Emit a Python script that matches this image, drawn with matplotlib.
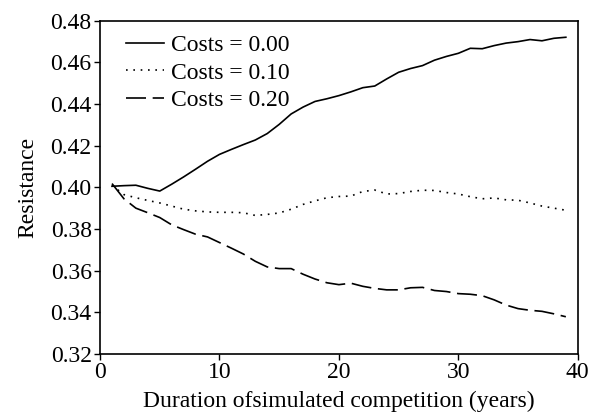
import matplotlib
matplotlib.use("Agg")
import matplotlib.pyplot as plt

plt.rcParams['font.family'] = ['Liberation Serif', 'DejaVu Serif']

years = list(range(1, 40))

# Costs = 0.00
res_000 = [0.4005, 0.4008, 0.4010, 0.3995, 0.3982, 0.4015, 0.4050, 0.4087, 0.4125, 0.4158,
           0.4182, 0.4205, 0.4227, 0.4258, 0.4302, 0.4352, 0.4385, 0.4412, 0.4425, 0.4440,
           0.4458, 0.4478, 0.4486, 0.4520, 0.4552, 0.4570, 0.4584, 0.4610, 0.4628, 0.4643,
           0.4667, 0.4665, 0.4680, 0.4692, 0.4699, 0.4709, 0.4703, 0.4715, 0.4720]
# Costs = 0.10
res_010 = [0.4010, 0.3965, 0.3950, 0.3937, 0.3925, 0.3910, 0.3895, 0.3887, 0.3882, 0.3880,
           0.3880, 0.3878, 0.3865, 0.3870, 0.3877, 0.3895, 0.3918, 0.3935, 0.3950, 0.3956,
           0.3958, 0.3980, 0.3987, 0.3968, 0.3970, 0.3980, 0.3986, 0.3985, 0.3975, 0.3968,
           0.3955, 0.3945, 0.3949, 0.3940, 0.3938, 0.3925, 0.3910, 0.3900, 0.3890]
# Costs = 0.20
res_020 = [0.4018, 0.3945, 0.3900, 0.3878, 0.3855, 0.3820, 0.3797, 0.3775, 0.3762, 0.3735,
           0.3708, 0.3680, 0.3645, 0.3618, 0.3610, 0.3610, 0.3583, 0.3560, 0.3542, 0.3533,
           0.3540, 0.3525, 0.3515, 0.3508, 0.3508, 0.3518, 0.3520, 0.3505, 0.3500, 0.3490,
           0.3487, 0.3480, 0.3460, 0.3435, 0.3418, 0.3410, 0.3405, 0.3393, 0.3379]

fig = plt.figure(figsize=(5.92, 4.2), dpi=100)
ax = fig.add_axes([0.169, 0.157, 0.807, 0.794])

ax.plot(years, res_000, color='black', lw=1.2, linestyle='-', label='Costs = 0.00')
ax.plot(years, res_010, color='black', lw=1.2, linestyle=(0, (1, 3.4)), label='Costs = 0.10')
ax.plot(years, res_020, color='black', lw=1.2, linestyle=(0, (12, 4)), label='Costs = 0.20')

ax.set_xlim(0, 40)
ax.set_ylim(0.32, 0.48)
ax.set_xticks([0, 10, 20, 30, 40])
ax.set_yticks([0.32, 0.34, 0.36, 0.38, 0.40, 0.42, 0.44, 0.46, 0.48])
ax.yaxis.set_major_formatter(matplotlib.ticker.FormatStrFormatter('%.2f'))
ax.tick_params(direction='out', length=4, width=1, labelsize=17, pad=2)
for s in ax.spines.values():
    s.set_linewidth(1.2)

ax.set_xlabel('Duration ofsimulated competition (years)', fontsize=17, labelpad=5)
ax.set_ylabel('Resistance', fontsize=17, labelpad=9)

ax.legend(loc='upper left', frameon=False, fontsize=17, handlelength=1.6,
          handletextpad=0.3, labelspacing=0.25, borderaxespad=0.2,
          bbox_to_anchor=(0.025, 1.0))

fig.savefig('out.png', dpi=100)
